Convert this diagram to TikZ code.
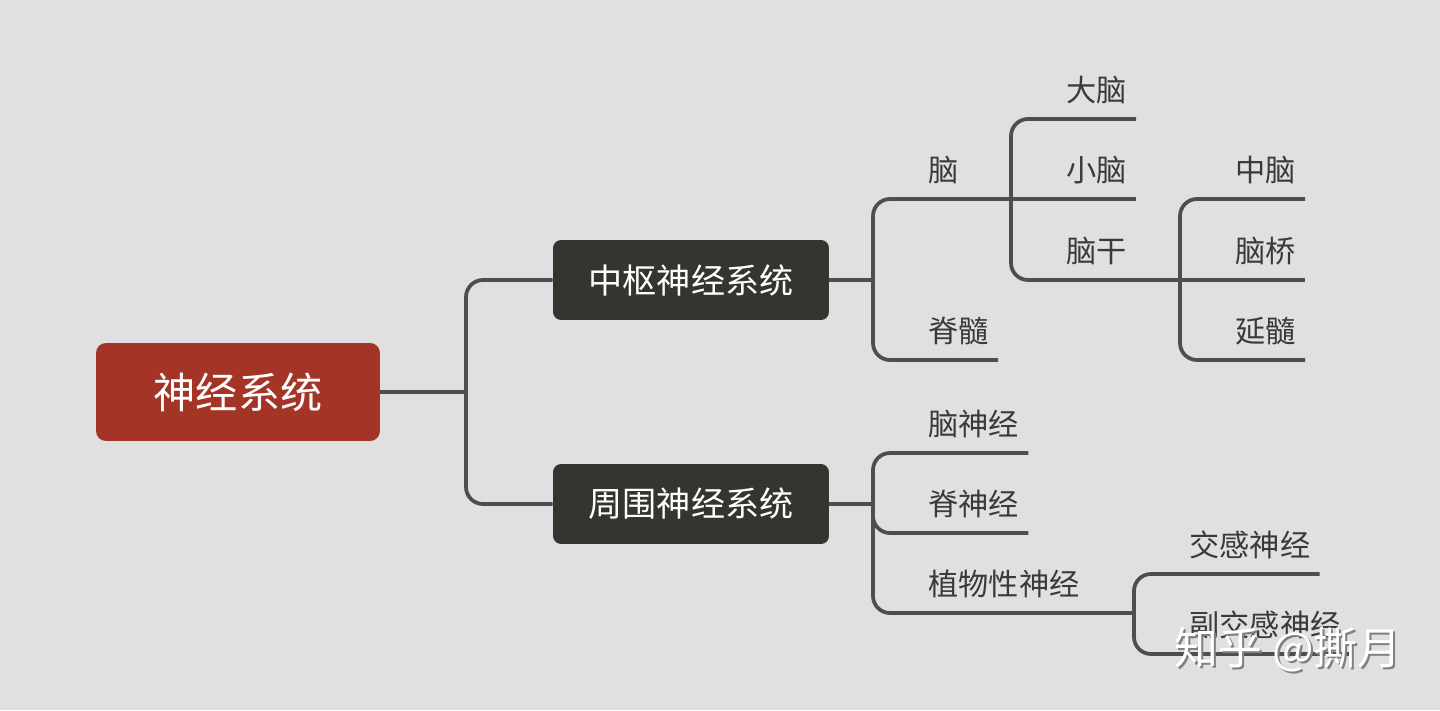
\documentclass[tikz,border=0pt]{standalone}
\usepackage{fontspec}
\setmainfont{Noto Sans CJK SC}
\definecolor{bggray}{HTML}{E0E0E0}
\definecolor{rootred}{HTML}{A33426}
\definecolor{boxdark}{HTML}{35352F}
\definecolor{linegray}{HTML}{4E4E4E}
\definecolor{textgray}{HTML}{3A3A3A}
\begin{document}
\begin{tikzpicture}[
  x=0.02cm, y=-0.02cm,
  rootnode/.style={rectangle, rounded corners=0.2cm, fill=rootred, text=white,
    minimum width=5.68cm, minimum height=1.96cm, font=\fontsize{24}{28}\selectfont},
  mainnode/.style={rectangle, rounded corners=0.16cm, fill=boxdark, text=white,
    minimum width=5.52cm, minimum height=1.6cm, font=\fontsize{19.4}{23}\selectfont},
  leaf/.style={anchor=south west, inner xsep=0.18cm, inner ysep=0.3cm, text=textgray,
    font=\fontsize{17.2}{20}\selectfont},
  branch/.style={draw=linegray, line width=0.075cm, rounded corners=0.34cm}
]
  \fill[bggray] (0,0) rectangle (1440,710);
  \useasboundingbox (0,0) rectangle (1440,710);

  \node[rootnode] (root) at (238,392) {神经系统};
  \node[mainnode] (cns) at (691,280) {中枢神经系统};
  \node[mainnode] (pns) at (691,504) {周围神经系统};

  \coordinate (jroot) at (466,392);
  \coordinate (jcns) at (873,280);
  \coordinate (jpns) at (873,504);
  \coordinate (jbrain) at (1011,199);
  \coordinate (jstem) at (1180,280);
  \coordinate (jauto) at (1134,613);

  \node[leaf] (brain) at (919,199) {脑};
  \node[leaf] (spinal) at (919,360) {脊髓};
  \node[leaf] (cerebrum) at (1057,119) {大脑};
  \node[leaf] (cerebellum) at (1057,199) {小脑};
  \node[leaf] (stem) at (1057,280) {脑干};
  \node[leaf] (midbrain) at (1226,199) {中脑};
  \node[leaf] (pons) at (1226,280) {脑桥};
  \node[leaf] (medulla) at (1226,360) {延髓};
  \node[leaf] (cranial) at (919,453) {脑神经};
  \node[leaf] (spinalnerve) at (919,533) {脊神经};
  \node[leaf] (autonomic) at (919,613) {植物性神经};
  \node[leaf] (sympa) at (1180,574) {交感神经};
  \node[leaf] (parasympa) at (1180,654) {副交感神经};

  \draw[branch] (root.east) -- (jroot);
  \draw[branch] (jroot) |- (cns.west);
  \draw[branch] (jroot) |- (pns.west);

  \draw[branch] (cns.east) -- (jcns);
  \draw[branch] (jcns) |- (jbrain);
  \draw[branch] (jcns) |- (spinal.south east);
  \draw[branch] (jbrain) |- (cerebrum.south east);
  \draw[branch] (jbrain) -- (cerebellum.south east);
  \draw[branch] (jbrain) |- (jstem);
  \draw[branch] (jstem) |- (midbrain.south east);
  \draw[branch] (jstem) -- (pons.south east);
  \draw[branch] (jstem) |- (medulla.south east);

  \draw[branch] (pns.east) -- (jpns);
  \draw[branch] (jpns) |- (cranial.south east);
  \draw[branch] (jpns) |- (spinalnerve.south east);
  \draw[branch] (jpns) |- (jauto);
  \draw[branch] (jauto) |- (sympa.south east);
  \draw[branch] (jauto) |- (parasympa.south east);

  % watermark
  \node[text=gray, font=\fontsize{25}{29}\selectfont] (wmshade) at (1290,652) {知乎 @撕月};
  \node[text=white, font=\fontsize{25}{29}\selectfont] (wm) at (1288,650) {知乎 @撕月};
\end{tikzpicture}
\end{document}
